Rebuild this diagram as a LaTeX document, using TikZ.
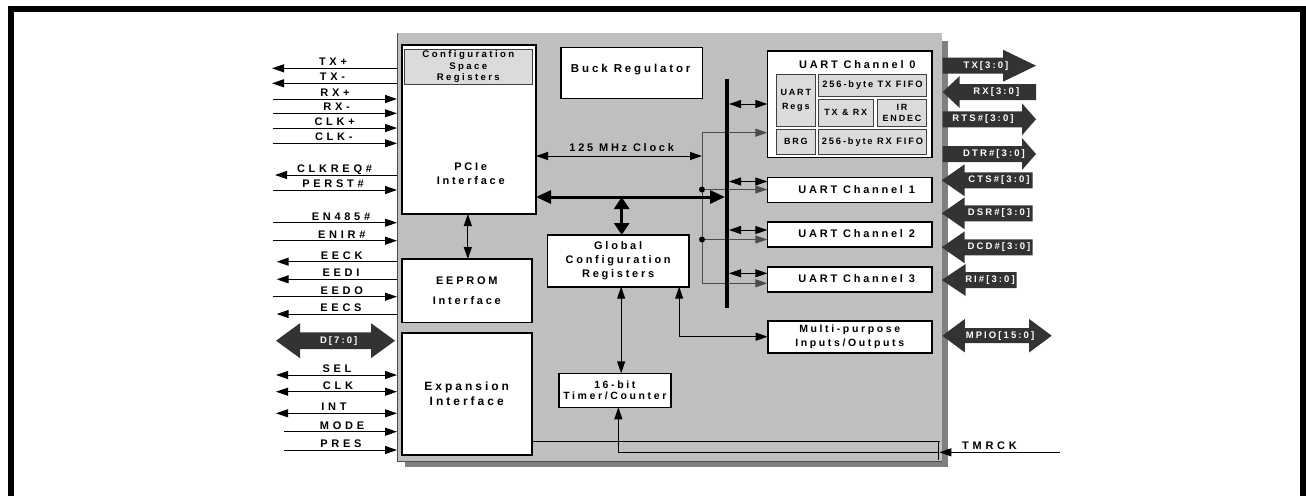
\documentclass[tikz,border=0pt]{standalone}
\usepackage{fontspec}
\setmainfont{Liberation Sans}
\newfontfamily\sigF{Liberation Sans}[LetterSpace=34]
\newfontfamily\boxF{Liberation Sans}[LetterSpace=25]
\newfontfamily\arrF{Liberation Sans}[LetterSpace=22]
\newfontfamily\smF{Liberation Sans}[LetterSpace=20]
\usetikzlibrary{arrows.meta}

\definecolor{chipgray}{gray}{0.75}
\definecolor{shgray}{gray}{0.5}
\definecolor{ltgray}{gray}{0.86}
\definecolor{dk}{gray}{0.2}
\definecolor{wiregray}{gray}{0.3}

\newcommand\fs[2]{\fontsize{#1}{#2}\selectfont}
% box from corners: name, x1, y1, x2, y2, style, text
\newcommand\bx[7]{\node[#6,minimum width={(#4)-(#2)},minimum height={(#5)-(#3)}] (#1) at ({((#2)+(#4))/2},{((#3)+(#5))/2}) {#7};}
% signal line: name, y, arrow, outer x, label x, label
\newcommand\sigline[6]{%
  \coordinate (#1o) at (#4,#2);
  \coordinate (#1i) at (397,#2);
  \draw[sig,#3] (#1o) -- (#1i);
  \node[siglbl] (#1l) at (#5,{#2-2.5}) {#6};}
% right block arrow: name, tail x, tip x, y, head length, text x, text
\newcommand\blkR[7]{%
  \fill[dk] (#2,{#4-8}) -- ({#3-#5},{#4-8}) -- ({#3-#5},{#4-16}) -- (#3,#4) -- ({#3-#5},{#4+16}) -- ({#3-#5},{#4+8}) -- (#2,{#4+8}) -- cycle;
  \node[arrtxt] (#1) at (#6,#4) {#7};}
% left block arrow: name, tip x, tail x, y, head length, text x, text
\newcommand\blkL[7]{%
  \fill[dk] (#3,{#4-8}) -- ({#2+#5},{#4-8}) -- ({#2+#5},{#4-16}) -- (#2,#4) -- ({#2+#5},{#4+16}) -- ({#2+#5},{#4+8}) -- (#3,{#4+8}) -- cycle;
  \node[arrtxt] (#1) at (#6,#4) {#7};}
% double block arrow: name, left tip, right tip, y, head len, head half, shaft half, text x, text
\newcommand\blkD[9]{%
  \fill[dk] (#2,#4) -- ({#2+#5},{#4-#6}) -- ({#2+#5},{#4-#7}) -- ({#3-#5},{#4-#7}) -- ({#3-#5},{#4-#6}) -- (#3,#4)
     -- ({#3-#5},{#4+#6}) -- ({#3-#5},{#4+#7}) -- ({#2+#5},{#4+#7}) -- ({#2+#5},{#4+#6}) -- cycle;
  \node[arrtxt] (#1) at (#8,#4) {#9};}

\begin{document}
\begin{tikzpicture}[x=1pt,y=-1pt,
  every node/.style={inner sep=0pt,outer sep=0pt},
  >={Triangle[length=12pt,width=8pt]},
  blk/.style={draw=black,line width=1.6pt,fill=white,align=center},
  sub/.style={draw=black!75,line width=0.8pt,fill=ltgray,align=center},
  sig/.style={line width=1pt},
  wire/.style={line width=1pt},
  gwire/.style={line width=1pt,draw=wiregray},
  siglbl/.style={font=\sigF\bfseries\fs{11}{12},anchor=base},
  boxtxt/.style={font=\boxF\bfseries\fs{11}{12},align=center},
  arrtxt/.style={font=\arrF\bfseries\fs{9.5}{11},text=white},
  fat/.style={line width=3pt,{Triangle[length=15pt,width=13pt]}-{Triangle[length=15pt,width=13pt]}},
  fatv/.style={line width=3.5pt,{Triangle[length=12pt,width=15pt]}-{Triangle[length=12pt,width=15pt]}},
  dot/.style={circle,fill=black,minimum size=6pt}
]
\useasboundingbox (0,0) rectangle (1306,496);
\fill[white] (0,0) rectangle (1306,496);
% outer frame
\fill[black] (8,6) rectangle (1306,12);
\fill[black] (8,6) rectangle (14,496);
\fill[black] (1300,6) rectangle (1306,496);

% chip body with shadow
\fill[shgray] (405,455) rectangle (948,467);
\fill[shgray] (936,41) rectangle (948,467);
\node[fill=chipgray,minimum width=545,minimum height=428,anchor=north west] (chip) at (397,33) {};
\draw[line width=0.8pt,black!70] (chip.north west) -- (chip.south west) -- (chip.south east);

% blocks
\bx{pcie}{401.7}{45}{536}{214}{blk}{}
\node[boxtxt,font=\boxF\bfseries\fs{11}{14}] (pcietxt) at (470.7,173.7) {PCIe\\Interface};
\bx{cfg}{404}{49.3}{532.7}{84.3}{sub,font=\boxF\bfseries\fs{9.6}{11.4}}{Configuration\\Space\\Registers}
\bx{eeprom}{401.7}{259}{532}{322.3}{blk,font=\boxF\bfseries\fs{11}{19.6}}{EEPROM\\Interface}
\bx{exp}{401.7}{332.7}{531.7}{455}{blk,font=\boxF\bfseries\fs{12}{15.7}}{Expansion\\Interface}
\bx{buck}{560.7}{47.3}{702.3}{98.3}{blk}{}
\node[boxtxt,font=\boxF\bfseries\fs{11.5}{13}] (bucktxt) at (630.7,70) {Buck Regulator};
\bx{glob}{547.3}{235}{689}{286.7}{blk,font=\boxF\bfseries\fs{11}{14.3}}{Global\\Configuration\\Registers}
\bx{timer}{559}{373.3}{670.7}{407.3}{blk,font=\boxF\bfseries\fs{10.5}{11}}{16-bit\\Timer/Counter}

\bx{u0}{767.3}{50.7}{931.7}{157.3}{blk}{}
\node[boxtxt] (u0t) at (857.3,65) {UART Channel 0};
\bx{uregs}{776}{74.3}{815.7}{126.7}{sub,font=\smF\bfseries\fs{9}{13.3}}{UART\\Regs}
\bx{txf}{818.3}{74.3}{926.7}{96.7}{sub,font=\smF\bfseries\fs{9.3}{11}}{256-byte TX FIFO}
\bx{txrx}{818.3}{99}{873.3}{126.7}{sub,font=\smF\bfseries\fs{9}{11}}{TX \& RX}
\bx{ir}{877.3}{99}{926.7}{126.7}{sub,font=\smF\bfseries\fs{9}{11.6}}{IR\\ENDEC}
\bx{brg}{776}{129.3}{815.7}{154}{sub,font=\smF\bfseries\fs{9}{11}}{BRG}
\bx{rxf}{818.3}{129.3}{926.7}{154}{sub,font=\smF\bfseries\fs{9.3}{11}}{256-byte RX FIFO}

\bx{u1}{767.3}{177.3}{931.7}{202.3}{blk}{}
\node[boxtxt] (u1t) at (856.7,190) {UART Channel 1};
\bx{u2}{767.3}{221.7}{931.7}{246.7}{blk}{}
\node[boxtxt] (u2t) at (856.7,234) {UART Channel 2};
\bx{u3}{767.3}{266.7}{931.7}{291.7}{blk}{}
\node[boxtxt] (u3t) at (856.7,278.3) {UART Channel 3};
\bx{mpio}{767.7}{320.7}{931.7}{352.7}{blk,font=\boxF\bfseries\fs{10.5}{13.3}}{Multi-purpose\\Inputs/Outputs}

% internal connectors
\draw[wire,<->] ([xshift=-1pt]pcie.south) -- ([xshift=-1pt]pcie.south |- eeprom.north);
\coordinate (ck) at (702,156);
\draw[wire,<->] (pcie.east |- ck) -- (ck);
\node[boxtxt] (ckl) at (621.7,147.7) {125 MHz Clock};

% clock distribution to UARTs
\coordinate (cv0) at (702,132.7);
\coordinate (cv3) at (702,283.3);
\coordinate (cd1) at (702,189.5);
\coordinate (cd2) at (702,239.5);
\draw[gwire] (cv0) -- (cv3);
\draw[gwire,->] (cv0) -- (cv0 -| u0.west);
\draw[gwire,->] (cd1) -- (cd1 -| u1.west);
\draw[gwire,->] (cd2) -- (cd2 -| u2.west);
\draw[gwire,->] (cv3) -- (cv3 -| u3.west);
\node[dot] (dot1) at (cd1) {};
\node[dot] (dot2) at (cd2) {};

% bus
\coordinate (busT) at (727,79.3);
\coordinate (busB) at (727,308.3);
\draw[line width=4pt] (busT) -- (busB);
\coordinate (b0) at (729,104);
\coordinate (b1) at (729,181.5);
\coordinate (b2) at (729,230);
\coordinate (b3) at (729,273.3);
\draw[wire,<->] (b0) -- (b0 -| u0.west);
\draw[wire,<->] (b1) -- (b1 -| u1.west);
\draw[wire,<->] (b2) -- (b2 -| u2.west);
\draw[wire,<->] (b3) -- (b3 -| u3.west);

\coordinate (busL) at (725,197);
\draw[fat] (pcie.east |- busL) -- (busL);
\coordinate (tv) at (621.7,197);
\draw[fatv] (tv) -- (tv |- glob.north);

\draw[wire,<->] ([xshift=3pt]glob.south) -- ([xshift=3pt]glob.south |- timer.north);
\draw[wire,<->] ([xshift=61pt]glob.south) |- (mpio.west);

% timer clock routing
\coordinate (tm1) at (940,441.7);
\draw[line width=0.8pt] (exp.east |- tm1) -- (tm1);
\draw[line width=0.8pt] (938,441.7) -- (938,460);
\coordinate (tm2) at (938,452.5);
\draw[wire,->] (tm2) -| ([xshift=3.5pt]timer.south);
\coordinate (tmin) at (1060,452.3);
\coordinate (tmend) at (939.3,452.3);
\draw[sig,->] (tmin) -- (tmend);
\node[siglbl] (tmrckl) at (989.5,449.8) {TMRCK};

% left signals
\sigline{stxp}{68.3}{<-}{272}{333}{TX+}
\sigline{stxm}{83.3}{<-}{272}{332.5}{TX-}
\sigline{srxp}{99}{->}{273}{335}{RX+}
\sigline{srxm}{113.3}{->}{273}{336.7}{RX-}
\sigline{sclkp}{128}{->}{273}{334.7}{CLK+}
\sigline{sclkm}{143.3}{->}{273}{333.8}{CLK-}
\sigline{sclkreq}{175}{<-}{275}{334.5}{CLKREQ\#}
\sigline{sperst}{190}{->}{273}{333}{PERST\#}
\sigline{sen485}{222.7}{->}{273}{341}{EN485\#}
\sigline{senir}{240.7}{->}{273}{341.7}{ENIR\#}
\sigline{seeck}{261.7}{<-}{276.7}{341.7}{EECK}
\sigline{seedi}{279.3}{<-}{276.7}{341}{EEDI}
\sigline{seedo}{296.7}{->}{273}{341.7}{EEDO}
\sigline{seecs}{314}{<-}{276.7}{341}{EECS}
\sigline{ssel}{375}{<->}{276}{337}{SEL}
\sigline{sclk}{391.7}{<->}{276}{338}{CLK}
\sigline{sint}{413.3}{<->}{276}{334}{INT}
\sigline{smode}{431.7}{->}{284}{342}{MODE}
\sigline{spres}{450}{->}{284}{341}{PRES}
\blkD{d70}{276}{395}{340.7}{24}{17.5}{8.3}{338.7}{D[7:0]}

% right block arrows
\blkR{tx}{942.7}{1036}{65.7}{33}{986}{TX[3:0]}
\blkL{rx}{942.7}{1036}{92}{17}{996.3}{RX[3:0]}
\blkR{rts}{942.7}{1036}{119.3}{14}{983}{RTS\#[3:0]}
\blkR{dtr}{942.7}{1036}{154}{14}{994}{DTR\#[3:0]}
\blkL{cts}{941.7}{1032.7}{180.3}{23}{999}{CTS\#[3:0]}
\blkL{dsr}{941.7}{1032.7}{213.3}{23}{999}{DSR\#[3:0]}
\blkL{dcd}{941.7}{1032.7}{247.3}{23}{999}{DCD\#[3:0]}
\blkL{ri}{941.7}{1016.7}{280}{24}{990}{RI\#[3:0]}
\blkD{mpioa}{942.3}{1051.7}{335.7}{22.5}{16.7}{7.5}{1000}{MPIO[15:0]}
\end{tikzpicture}
\end{document}
